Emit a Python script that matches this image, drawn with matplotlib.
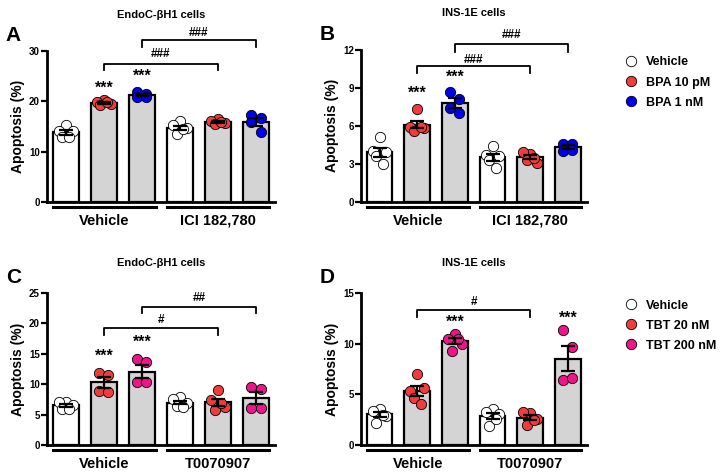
import numpy as np
import matplotlib
matplotlib.use("Agg")
import matplotlib.pyplot as plt
from matplotlib.lines import Line2D

plt.rcParams["font.family"] = ["Liberation Sans", "DejaVu Sans"]
plt.rcParams["font.weight"] = "bold"

# ---- data ----
groups_ab = ["Vehicle", "ICI 182,780"]
groups_cd = ["Vehicle", "T0070907"]
legend_ab = ["Vehicle", "BPA 10 pM", "BPA 1 nM"]
legend_cd = ["Vehicle", "TBT 20 nM", "TBT 200 nM"]

pts_a = [
    [15.2, 14.1, 14.0, 12.9, 12.8],
    [20.2, 19.9, 19.4, 19.2, 19.8],
    [21.9, 21.4, 20.9, 20.8],
    [16.0, 15.2, 14.6, 13.4, 14.4],
    [16.4, 16.0, 15.6, 15.4, 15.9],
    [17.3, 16.6, 15.8, 13.8],
]
pts_b = [
    [5.1, 4.0, 3.9, 3.6, 3.0],
    [7.3, 5.9, 5.8, 5.6, 5.9],
    [8.7, 8.1, 7.4, 7.0],
    [4.4, 3.7, 3.6, 3.3, 2.7],
    [3.8, 3.9, 3.1, 3.3, 3.5],
    [4.6, 4.6, 4.05, 4.1],
]
pts_c = [
    [7.1, 7.1, 6.6, 5.9, 5.9],
    [11.9, 11.6, 8.9, 8.8],
    [14.1, 13.6, 10.3, 10.3],
    [7.9, 7.5, 7.0, 6.4, 6.2],
    [9.0, 7.4, 6.3, 5.7, 6.9],
    [9.6, 9.2, 6.1, 6.1],
]
pts_d = [
    [3.6, 3.4, 2.9, 2.2, 3.0],
    [7.0, 5.3, 5.6, 4.6, 4.1],
    [11.0, 10.5, 10.0, 9.3, 10.5],
    [3.6, 3.3, 3.1, 1.9, 2.6],
    [3.2, 3.3, 2.6, 2.0, 2.5],
    [11.35, 9.7, 6.4, 6.65],
]

# small horizontal offsets of the dots inside each bar
jit5 = [0.0, -0.18, 0.18, -0.09, 0.09]
jit4 = [-0.12, 0.12, -0.12, 0.12]

WHITE, GREY = "white", "#d4d4d4"
RED, BLUE, PINK = "#f03c3c", "#0000f0", "#ee1489"

panels = [
    dict(pts=pts_a, pos=[0.065, 0.575, 0.317, 0.318], ymax=30, step=10,
         cols=[WHITE, RED, BLUE], groups=groups_ab, title="EndoC-\u03b2H1 cells", ty=1.22,
         letter="A", stars=[(1, 22.5), (2, 24.9)],
         brackets=[(1, 4, 27.4, 26.2, "###", 29.4), (2, 5, 32.2, 30.8, "###", 33.6)],
         legend=None),
    dict(pts=pts_b, pos=[0.501, 0.575, 0.314, 0.320], ymax=12, step=3,
         cols=[WHITE, RED, BLUE], groups=groups_ab, title="INS-1E cells", ty=1.22,
         letter="B", stars=[(1, 8.6), (2, 9.8)],
         brackets=[(1, 4, 10.7, 10.2, "###", 11.2), (2, 5, 12.5, 11.85, "###", 13.2)],
         legend=legend_ab),
    dict(pts=pts_c, pos=[0.065, 0.063, 0.317, 0.320], ymax=25, step=5,
         cols=[WHITE, RED, PINK], groups=groups_cd, title="EndoC-\u03b2H1 cells", ty=1.18,
         letter="C", stars=[(1, 14.6), (2, 16.9)],
         brackets=[(1, 4, 19.2, 18.1, "#", 20.6), (2, 5, 22.7, 21.7, "##", 24.2)],
         legend=None),
    dict(pts=pts_d, pos=[0.501, 0.063, 0.314, 0.320], ymax=15, step=5,
         cols=[WHITE, RED, PINK], groups=groups_cd, title="INS-1E cells", ty=1.18,
         letter="D", stars=[(2, 12.1), (5, 12.5)],
         brackets=[(1, 4, 13.3, 12.6, "#", 14.1)],
         legend=legend_cd),
]

fig = plt.figure(figsize=(7.2, 4.75), dpi=100)

for p in panels:
    ax = fig.add_axes(p["pos"])
    x = np.arange(6)
    means = [np.mean(v) for v in p["pts"]]
    sems = [np.std(v, ddof=1) / np.sqrt(len(v)) for v in p["pts"]]
    fills = [WHITE, GREY, GREY, WHITE, GREY, GREY]
    ax.bar(x, means, width=0.68, color=fills, edgecolor="black", linewidth=1.6, zorder=1)
    for i, vals in enumerate(p["pts"]):
        jit = jit5 if len(vals) == 5 else jit4
        ax.scatter(x[i] + np.array(jit[:len(vals)]), vals, s=55, color=p["cols"][i % 3],
                   edgecolor="black", linewidth=0.6, zorder=3)
    ax.errorbar(x, means, yerr=sems, fmt="none", ecolor="black", elinewidth=1.6,
                capsize=5, capthick=1.6, zorder=4)

    ax.set_xlim(-0.5, 5.5)
    ax.set_ylim(0, p["ymax"])
    ax.set_yticks(np.arange(0, p["ymax"] + 0.1, p["step"]))
    ax.set_xticks([])
    for s in ["top", "right"]:
        ax.spines[s].set_visible(False)
    for s in ["left", "bottom"]:
        ax.spines[s].set_linewidth(2)
    ax.tick_params(axis="y", width=1.6, length=4, labelsize=7, pad=1)
    ax.set_ylabel("Apoptosis (%)", fontsize=10, fontweight="bold", labelpad=3)

    # group underlines and labels
    tr = ax.get_xaxis_transform()
    for (x0, x1), g in zip([(-0.34, 2.38), (2.66, 5.34)], p["groups"]):
        ax.plot([x0, x1], [-0.033, -0.033], color="black", lw=2.2, transform=tr, clip_on=False)
        ax.text((x0 + x1) / 2, -0.125, g, transform=tr, ha="center", va="center",
                fontsize=10.5, fontweight="bold")

    # significance marks
    for i, y in p["stars"]:
        ax.text(i, y, "***", ha="center", va="center", fontsize=11.5, fontweight="bold")
    for i0, i1, yb, ye, lab, yt in p["brackets"]:
        ax.plot([i0, i0, i1, i1], [ye, yb, yb, ye], color="black", lw=1.3, clip_on=False)
        ax.text((i0 + i1) / 2, yt, lab, ha="center", va="center", fontsize=8.5, fontweight="bold")

    ax.set_title(p["title"], fontsize=8, fontweight="bold", pad=0, y=p["ty"])
    ax.text(-0.18, 1.10, p["letter"], transform=ax.transAxes, fontsize=15,
            fontweight="bold", ha="left", va="center")

    if p["legend"]:
        handles = [Line2D([], [], marker="o", ls="none", markersize=7.5, markerfacecolor=c,
                          markeredgecolor="black", markeredgewidth=0.6) for c in p["cols"]]
        ax.legend(handles, p["legend"], loc="upper left", bbox_to_anchor=(1.145, 0.99),
                  frameon=False, handletextpad=0.7, labelspacing=0.65,
                  handlelength=1.0, borderaxespad=0, prop={"weight": "bold", "size": 9})

fig.savefig("out.png", dpi=100)
